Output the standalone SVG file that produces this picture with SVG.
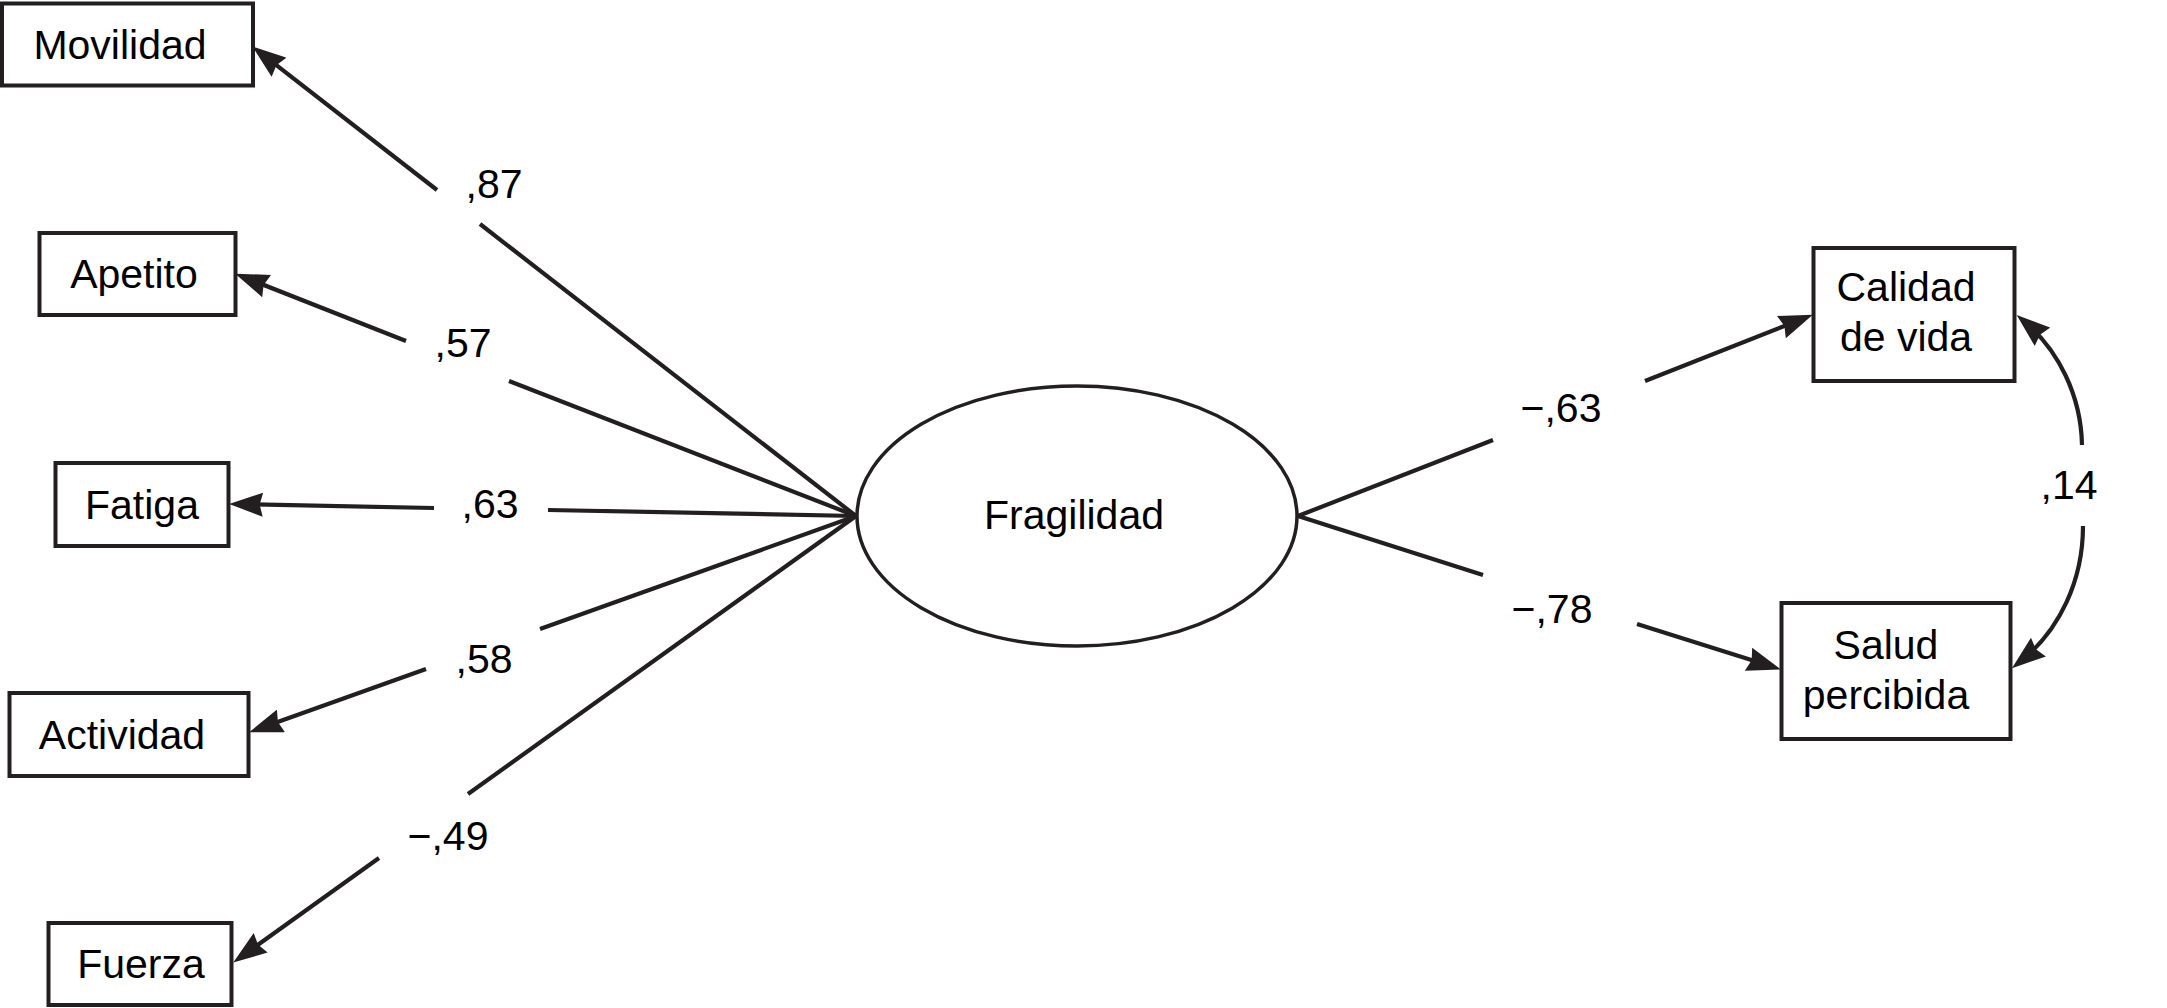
<svg xmlns="http://www.w3.org/2000/svg" width="2167" height="1008" viewBox="0 0 2167 1008">
<style>
  .box{fill:#fff;stroke:#231f20;stroke-width:4}
  .ell{fill:#fff;stroke:#231f20;stroke-width:3.5}
  .t{font-family:"Liberation Sans",Arial,Helvetica,sans-serif;font-size:41px;fill:#000;text-anchor:middle}
  .c{fill:none;stroke:#231f20;stroke-width:4.2}
  .a{marker-end:url(#ah)}
</style>
<defs>
  <marker id="ah" markerUnits="userSpaceOnUse" markerWidth="34" markerHeight="24" viewBox="0 0 31 22" refX="21" refY="11" orient="auto">
    <path d="M0,0 L31,11 L0,22 L3,11 z" fill="#231f20"/>
  </marker>
</defs>
<rect width="2167" height="1008" fill="#fff"/>
<g id="connectors">
  <line class="c" x1="856" y1="516" x2="480" y2="224"/>
  <line class="c a" x1="437" y1="190" x2="260.9" y2="53.1"/>
  <line class="c" x1="856" y1="516" x2="509" y2="381"/>
  <line class="c a" x1="406" y1="341" x2="245.3" y2="277.7"/>
  <line class="c" x1="856" y1="516" x2="548" y2="510"/>
  <line class="c a" x1="434" y1="508" x2="240" y2="504.2"/>
  <line class="c" x1="856" y1="516" x2="540" y2="629"/>
  <line class="c a" x1="426" y1="669" x2="259.4" y2="728.6"/>
  <line class="c" x1="856" y1="516" x2="468" y2="794"/>
  <line class="c a" x1="379" y1="858" x2="242.1" y2="956.2"/>
  <line class="c" x1="1298" y1="516" x2="1493" y2="440"/>
  <line class="c a" x1="1645" y1="381" x2="1802.7" y2="318.7"/>
  <line class="c" x1="1298" y1="516" x2="1483" y2="575"/>
  <line class="c a" x1="1637" y1="624" x2="1770.4" y2="666.1"/>
  <path class="c a" d="M2082,445 C2081,395 2058,350 2025,322"/>
  <path class="c a" d="M2083,526 C2083,580 2060,630 2020.5,661.4"/>
  <text class="t" x="494" y="198">,87</text>
  <text class="t" x="463" y="357">,57</text>
  <text class="t" x="490" y="518">,63</text>
  <text class="t" x="484" y="673">,58</text>
  <text class="t" x="448" y="850">−,49</text>
  <text class="t" x="1561" y="422">−,63</text>
  <text class="t" x="1552" y="623">−,78</text>
  <text class="t" x="2069" y="499">,14</text>
</g>
<g id="movilidad">
  <rect class="box" x="2" y="3.5" width="251" height="82"/>
  <text class="t" x="120" y="59">Movilidad</text>
</g>
<g id="apetito">
  <rect class="box" x="39.5" y="233" width="196" height="82"/>
  <text class="t" x="134" y="288">Apetito</text>
</g>
<g id="fatiga">
  <rect class="box" x="55.5" y="463" width="173" height="83"/>
  <text class="t" x="142" y="519">Fatiga</text>
</g>
<g id="actividad">
  <rect class="box" x="9.5" y="693" width="239" height="83"/>
  <text class="t" x="122" y="749">Actividad</text>
</g>
<g id="fuerza">
  <rect class="box" x="48.5" y="923" width="183" height="82"/>
  <text class="t" x="141" y="978">Fuerza</text>
</g>
<g id="fragilidad">
  <ellipse class="ell" cx="1077" cy="516" rx="220" ry="130"/>
  <text class="t" x="1074" y="529">Fragilidad</text>
</g>
<g id="calidad">
  <rect class="box" x="1813.5" y="248" width="201" height="133"/>
  <text class="t" x="1906" y="301">Calidad</text>
  <text class="t" x="1906" y="351">de vida</text>
</g>
<g id="salud">
  <rect class="box" x="1781.5" y="603" width="229" height="136"/>
  <text class="t" x="1886" y="659">Salud</text>
  <text class="t" x="1886" y="709">percibida</text>
</g>
</svg>
